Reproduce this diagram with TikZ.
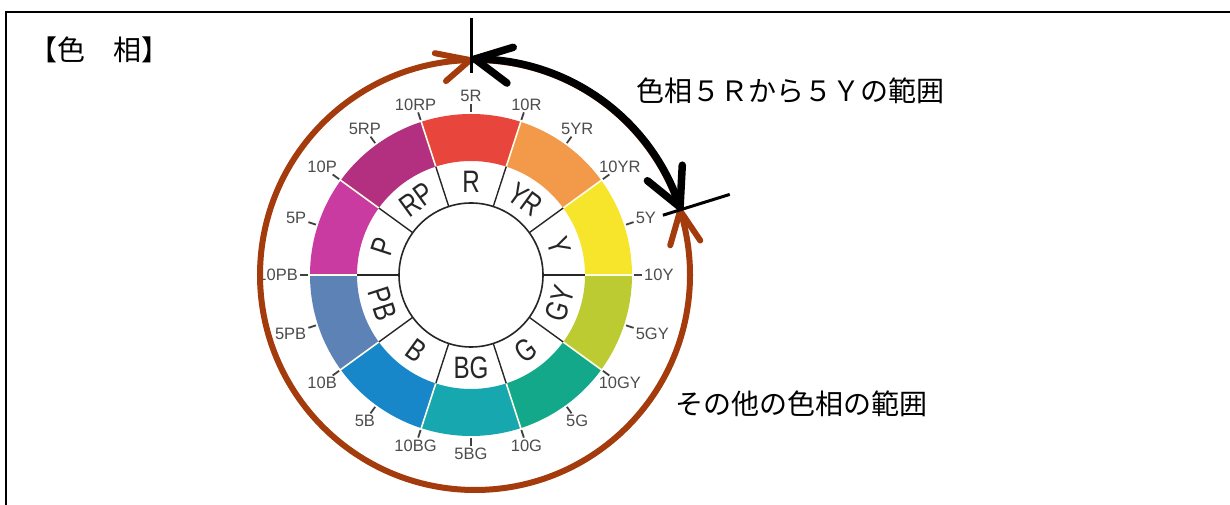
\documentclass[tikz,border=0pt]{standalone}
\usepackage{fontspec}
\setmainfont{Liberation Sans}
\newfontfamily\jp{Noto Sans CJK JP}
\usetikzlibrary{calc}
\definecolor{brn}{HTML}{A33B0C}
\definecolor{cR}{HTML}{E8453C}
\definecolor{cYR}{HTML}{F29A4A}
\definecolor{cY}{HTML}{F7E52B}
\definecolor{cGY}{HTML}{BDCB32}
\definecolor{cG}{HTML}{14A88A}
\definecolor{cBG}{HTML}{17A7AE}
\definecolor{cB}{HTML}{1787C9}
\definecolor{cPB}{HTML}{5D82B6}
\definecolor{cP}{HTML}{C93BA0}
\definecolor{cRP}{HTML}{B2307F}
\tikzset{
  jptext/.style={font=\jp\fontsize{28}{28}\selectfont, inner sep=0pt, anchor=base west},
  hlab/.style={font=\fontsize{31}{31}\selectfont, text=black!85, inner sep=0pt},
  tlab/.style={font=\fontsize{16.5}{16.5}\selectfont, text=black!70, inner sep=1pt},
  tickmark/.style={line width=1.8pt, draw=black!75},
  divider/.style={line width=1.4pt, draw=black!85},
  sep/.style={line width=1.6pt, draw=white!90!yellow},
  longtick/.style={line width=3pt, draw=black},
  brownarc/.style={line width=6pt, draw=brn, line cap=round, line join=round},
  blackarc/.style={line width=7.5pt, draw=black, line cap=round, line join=round},
}
\begin{document}
\begin{tikzpicture}[x=1pt,y=1pt]
\useasboundingbox (0,0) rectangle (1230,505);
\clip (0,0) rectangle (1230,505);
% frame
\draw[line width=2.2pt] (6,493) rectangle (1260,-30);
% title
\node[jptext] (title) at (29,444.4) {【色　相】};
\coordinate (C) at (471,230);
\coordinate (B) at (475,230);
% color band
\foreach \a/\c in {90/cR,54/cYR,18/cY,-18/cGY,-54/cG,-90/cBG,-126/cB,-162/cPB,162/cP,126/cRP}{
  \fill[\c] ($(C)+(\a-18:114)$) arc[start angle=\a-18,end angle=\a+18,radius=114]
    -- ($(C)+(\a+18:161)$) arc[start angle=\a+18,end angle=\a-18,radius=161] -- cycle;
}
\foreach \a in {0,36,...,324}{
  \draw[sep] ($(C)+(\a:113)$) -- ($(C)+(\a:162)$);
  \draw[divider] ($(C)+(\a:72)$) -- ($(C)+(\a:114)$);
}
\draw[line width=1.6pt, draw=black!85, fill=white] (C) circle[radius=72];
% hue letters
\foreach \a/\l/\r in {90/R/0,54/YR/-36,18/Y/-72,-18/GY/72,-54/G/36,-90/BG/0,-126/B/-36,-162/PB/-72,162/P/72,126/RP/36}{
  \node[hlab, rotate=\r] (h\l) at ($(C)+(\a:93)$) {\scalebox{0.78}[1]{\l}};
}
% ticks and labels
\foreach \a/\l [evaluate=\a as \b using {int(\a+180)}] in {90/5R,72/10R,54/5YR,36/10YR,18/5Y,0/10Y,-18/5GY,-36/10GY,-54/5G,-72/10G,-90/5BG,-108/10BG,-126/5B,-144/10B,-162/5PB,180/10PB,162/5P,144/10P,126/5RP,108/10RP}{
  \draw[tickmark] ($(C)+(\a:163)$) -- ($(C)+(\a:171)$) coordinate (t\l);
  \node[tlab, anchor=\b] (l\l) at ($(C)+(\a:172)$) {\l};
}
% range arcs
\coordinate (bTop) at ($(B)+(91.3:215)$);
\coordinate (bY) at ($(B)+(377.4:215)$);
\coordinate (kTop) at ($(B)+(90:216)$);
\coordinate (kY) at ($(B)+(18.3:216)$);
\draw[brownarc] (B) circle[radius=215];
\draw[blackarc] (kTop) arc[start angle=90, end angle=18.3, radius=216];
% arrowheads
\draw[brownarc] ($(bTop)+(169:36)$) -- (bTop) -- ($(bTop)+(221:32)$);
\draw[brownarc] ($(bY)+(254:36)$) -- (bY) -- ($(bY)+(304:36)$);
\draw[blackarc] ($(kTop)+(17:40)$) -- (kTop) -- ($(kTop)+(-37:40)$);
\draw[blackarc] ($(kY)+(141:42)$) -- (kY) -- ($(kY)+(87:42)$);
% long ticks
\draw[longtick] ($(C)+(90:202)$) -- ($(C)+(90:257)$) coordinate (k5R);
\draw[longtick] ($(C)+(17.3:201)$) -- ($(C)+(17.3:271)$) coordinate (k5Y);
% texts
\node[jptext] (t1) at (636,403.9) {色相５Ｒから５Ｙの範囲};
\node[jptext] (t2) at (675,90.9) {その他の色相の範囲};
\end{tikzpicture}
\end{document}
